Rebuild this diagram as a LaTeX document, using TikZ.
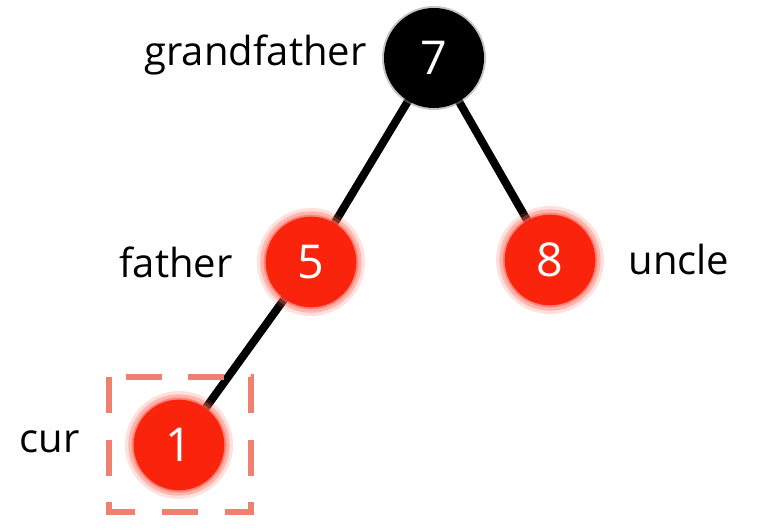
\documentclass[tikz,border=0pt]{standalone}
\usepackage{fontspec}
\setmainfont{Open Sans}
\definecolor{nodered}{RGB}{250,36,12}
\definecolor{glowred}{RGB}{255,100,85}
\definecolor{boxpink}{RGB}{240,128,112}
\tikzset{every picture/.style={line width=0.75pt}}
\tikzset{
  treenode/.style={circle, inner sep=0pt, minimum size=68pt, text=white, font=\fontsize{35}{35}\selectfont},
  rednode/.style={treenode, fill=nodered,
    preaction={draw=glowred, draw opacity=0.2, line width=13pt},
    preaction={draw=glowred, draw opacity=0.35, line width=8pt},
    preaction={draw=glowred, draw opacity=0.6, line width=3pt}},
  blacknode/.style={treenode, fill=black, minimum size=75pt, preaction={draw=black!45, draw opacity=0.5, line width=3pt}},
  treeedge/.style={line width=6pt, black},
  tag/.style={inner sep=0.75pt, font=\fontsize{30}{30}\selectfont}
}
\begin{document}
\begin{tikzpicture}[x=0.75pt,y=0.75pt,yscale=-1,xscale=1]
\useasboundingbox (0,0) rectangle (777,530);

% edges first, nodes on top
\coordinate (g) at (434,58);
\coordinate (f) at (311,262);
\coordinate (u) at (550,260);
\coordinate (c) at (179,445);
\draw[treeedge] (g) -- (f);
\draw[treeedge] (g) -- (u);
\draw[treeedge] (f) -- (c);

\node[blacknode] (gnode) at (g) {7};
\node[rednode] (fnode) at (f) {5};
\node[rednode] (unode) at (u) {8};
\node[rednode] (cnode) at (c) {1};

% highlight box round cur
\draw[boxpink, line width=4.5pt, dash pattern=on 27pt off 20pt] (109,377) rectangle (251,512);

\node[tag, anchor=east] (glabel) at (368,55) {grandfather};
\node[tag, anchor=east] (flabel) at (234,262) {father};
\node[tag, anchor=west] (ulabel) at (627,260) {uncle};
\node[tag, anchor=east] (clabel) at (81,442) {cur};

\end{tikzpicture}
\end{document}
